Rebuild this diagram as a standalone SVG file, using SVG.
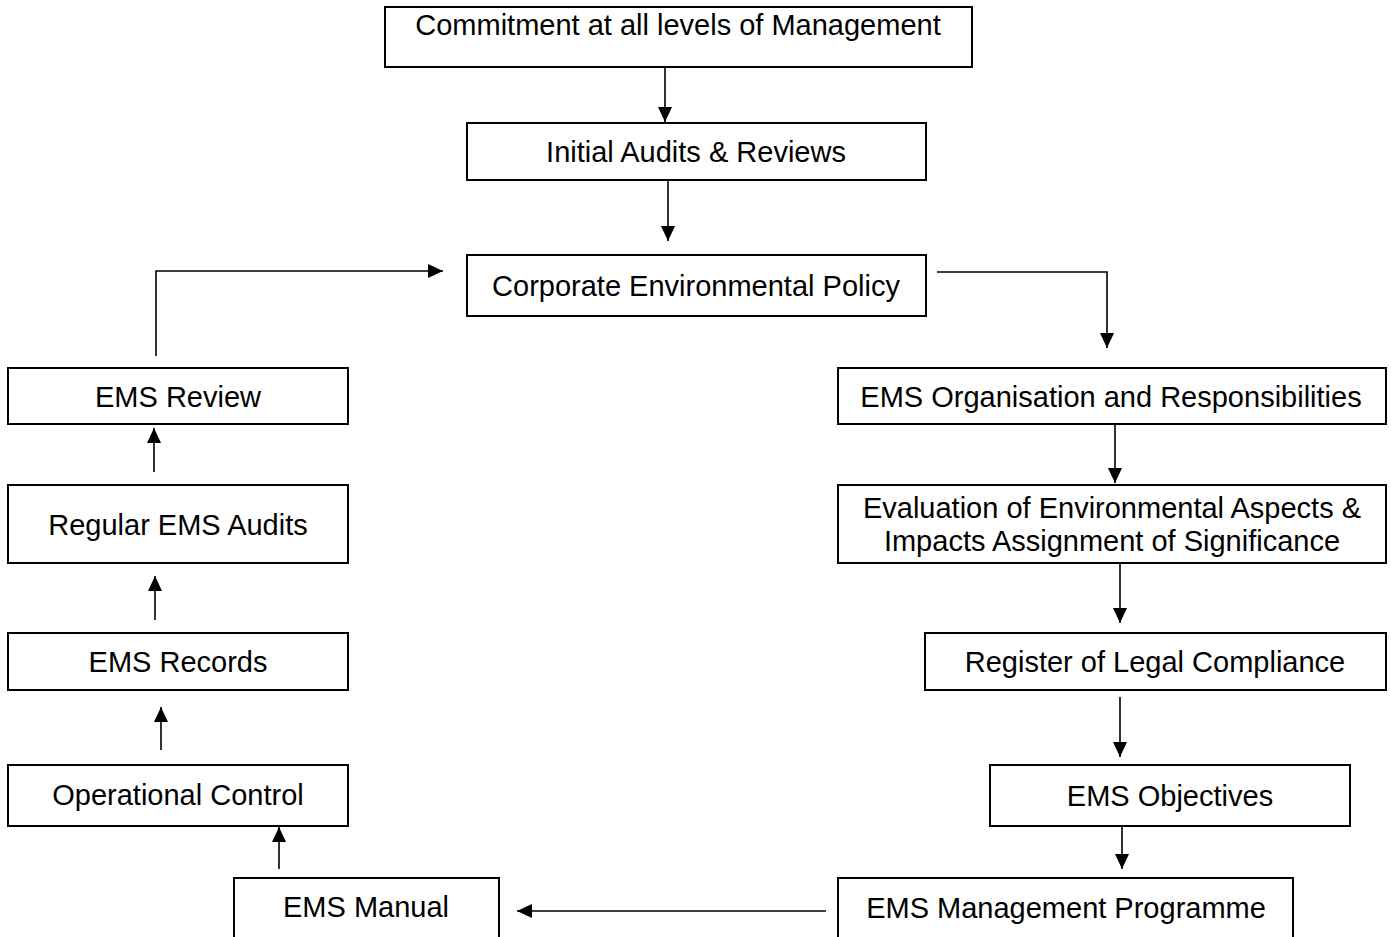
<svg xmlns="http://www.w3.org/2000/svg" width="1391" height="937" viewBox="0 0 1391 937">
<style>
.box{fill:#fff;stroke:#000;stroke-width:2}
.t{font-family:"Liberation Sans",Arial,sans-serif;font-size:29px;fill:#000;text-anchor:middle}
.c{fill:none;stroke:#000;stroke-width:1.6}
</style>
<defs>
<marker id="ah" markerUnits="userSpaceOnUse" markerWidth="16" markerHeight="16" viewBox="0 0 16 16" refX="15" refY="8" orient="auto">
<path d="M0,1 L15,8 L0,15 Z" fill="#000"/>
</marker>
</defs>
<rect width="1391" height="937" fill="#fff"/>
<g id="connectors">
<path class="c" d="M665,61 V122" marker-end="url(#ah)"/>
<path class="c" d="M668,180 V241" marker-end="url(#ah)"/>
<path class="c" d="M156,356 V271 H443" marker-end="url(#ah)"/>
<path class="c" d="M937,272 H1107 V348" marker-end="url(#ah)"/>
<path class="c" d="M1115,424 V483" marker-end="url(#ah)"/>
<path class="c" d="M1120,563 V623" marker-end="url(#ah)"/>
<path class="c" d="M1120,697 V757" marker-end="url(#ah)"/>
<path class="c" d="M1122,827 V869" marker-end="url(#ah)"/>
<path class="c" d="M826,911 H517" marker-end="url(#ah)"/>
<path class="c" d="M279,869 V827" marker-end="url(#ah)"/>
<path class="c" d="M161,750 V707" marker-end="url(#ah)"/>
<path class="c" d="M155,620 V576" marker-end="url(#ah)"/>
<path class="c" d="M154,472 V428" marker-end="url(#ah)"/>
</g>
<g id="commitment"><rect class="box" x="385" y="7" width="587" height="60"/><text class="t" x="678" y="35">Commitment at all levels of Management</text></g>
<g id="initial-audits"><rect class="box" x="467" y="123" width="459" height="57"/><text class="t" x="696" y="162">Initial Audits &amp; Reviews</text></g>
<g id="policy"><rect class="box" x="467" y="255" width="459" height="61"/><text class="t" x="696" y="296">Corporate Environmental Policy</text></g>
<g id="ems-review"><rect class="box" x="8" y="368" width="340" height="56"/><text class="t" x="178" y="407">EMS Review</text></g>
<g id="regular-audits"><rect class="box" x="8" y="485" width="340" height="78"/><text class="t" x="178" y="535">Regular EMS Audits</text></g>
<g id="ems-records"><rect class="box" x="8" y="633" width="340" height="57"/><text class="t" x="178" y="672">EMS Records</text></g>
<g id="operational-control"><rect class="box" x="8" y="765" width="340" height="61"/><text class="t" x="178" y="805">Operational Control</text></g>
<g id="ems-manual"><rect class="box" x="234" y="878" width="265" height="70"/><text class="t" x="366" y="917">EMS Manual</text></g>
<g id="ems-organisation"><rect class="box" x="838" y="368" width="548" height="56"/><text class="t" x="1111" y="407">EMS Organisation and Responsibilities</text></g>
<g id="evaluation"><rect class="box" x="838" y="485" width="548" height="78"/><text class="t" x="1112" y="518">Evaluation of Environmental Aspects &amp;</text><text class="t" x="1112" y="551">Impacts Assignment of Significance</text></g>
<g id="register"><rect class="box" x="925" y="633" width="461" height="57"/><text class="t" x="1155" y="672">Register of Legal Compliance</text></g>
<g id="ems-objectives"><rect class="box" x="990" y="765" width="360" height="61"/><text class="t" x="1170" y="806">EMS Objectives</text></g>
<g id="ems-programme"><rect class="box" x="838" y="878" width="455" height="70"/><text class="t" x="1066" y="918">EMS Management Programme</text></g>
</svg>
